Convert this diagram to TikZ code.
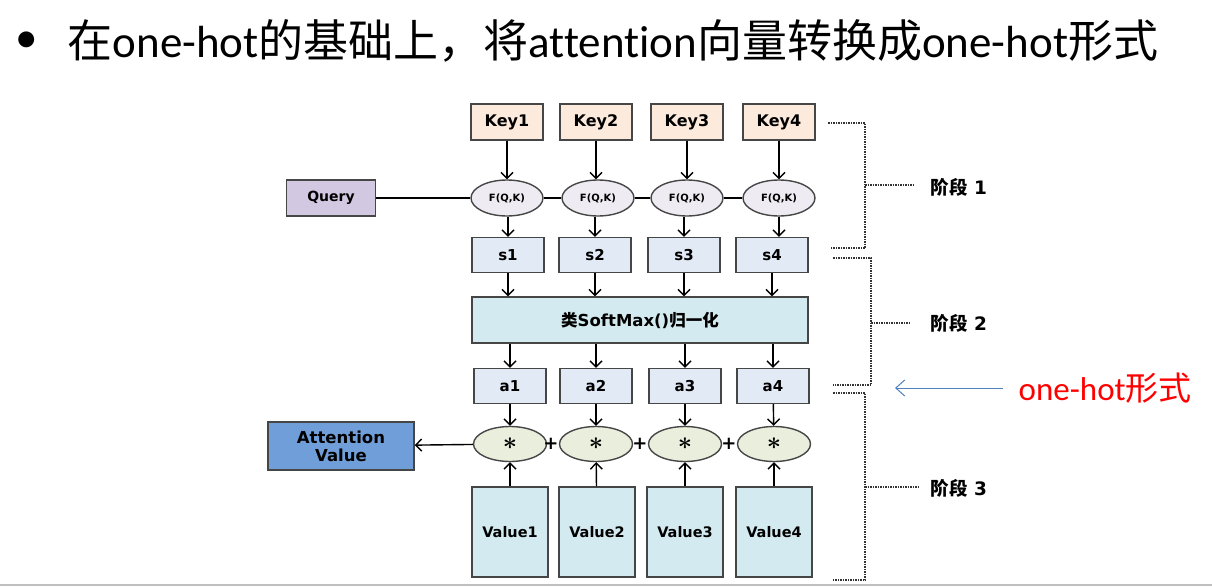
\documentclass[tikz,border=0pt]{standalone}
\usepackage{fontspec}
\setmainfont{Carlito}[Ligatures=NoCommon]
\newfontfamily\cjk{Noto Sans CJK SC}
\newfontfamily\boxfont{DejaVu Sans}
\newcommand{\zhs}[1]{{\cjk #1}}
\usetikzlibrary{arrows.meta,shapes.geometric,positioning}
\definecolor{keyfill}{RGB}{252,235,220}
\definecolor{scorefill}{RGB}{226,234,246}
\definecolor{fqkfill}{RGB}{238,236,242}
\definecolor{queryfill}{RGB}{211,200,225}
\definecolor{cyanfill}{RGB}{210,234,240}
\definecolor{mulfill}{RGB}{234,239,221}
\definecolor{attfill}{RGB}{112,158,216}
\definecolor{edgegray}{RGB}{70,70,70}
\definecolor{hintblue}{RGB}{79,129,189}
\begin{document}
\begin{tikzpicture}[x=1pt, y=-1pt, line width=1.4pt,
    box/.style = {draw=edgegray, rectangle, inner sep=0pt, align=center, font=\boxfont\bfseries\fontsize{15}{18}\selectfont},
    keybox/.style = {box, fill=keyfill, minimum width=72pt, minimum height=36pt, font=\boxfont\bfseries\fontsize{16}{18}\selectfont},
    scorebox/.style = {box, fill=scorefill, minimum width=72pt, minimum height=35pt},
    fqk/.style = {draw=edgegray, ellipse, fill=fqkfill, inner sep=0pt, minimum width=72pt, minimum height=36pt, font=\boxfont\bfseries\fontsize{10}{12}\selectfont},
    mul/.style = {draw=edgegray, ellipse, fill=mulfill, inner sep=0pt, minimum width=73pt, minimum height=35pt, font=\fontsize{28}{28}\selectfont\boldmath},
    valbox/.style = {box, fill=cyanfill, minimum width=76pt, minimum height=90pt, font=\boxfont\bfseries\fontsize{14.5}{18}\selectfont},
    plus/.style = {inner sep=0pt, font=\boxfont\bfseries\fontsize{18}{18}\selectfont},
    stage/.style = {anchor=west, inner sep=0pt, font=\boxfont\bfseries\fontsize{18.5}{19}\selectfont},
    arr/.style = {-{Straight Barb[length=6pt,width=12pt]}, black},
    bracket/.style = {densely dotted, line width=1.5pt, black!80}]
    \useasboundingbox (0,0) rectangle (1212,586);

    % title line
    \node[inner sep=0pt, font=\fontsize{45}{45}\selectfont] (dot) at (27,42) {•};
    \node[anchor=west, inner sep=0pt, font=\fontsize{45}{45}\selectfont] (title) at (67,41) {\zhs{在}one-hot\zhs{的基础上，将}attention\zhs{向量转换成}one-hot\zhs{形式}};

    % keys and scoring
    \node[keybox] (k1) at (507,122) {Key1};
    \node[keybox] (k2) at (596,122) {Key2};
    \node[keybox] (k3) at (687,122) {Key3};
    \node[keybox] (k4) at (779,122) {Key4};
    \node[box, fill=queryfill, minimum width=89pt, minimum height=36pt, font=\boxfont\bfseries\fontsize{14}{16}\selectfont] (q) at (331,198) {Query};
    \node[fqk] (f1) at (507,198) {F(Q,K)};
    \node[fqk] (f2) at (598,198) {F(Q,K)};
    \node[fqk] (f3) at (687,198) {F(Q,K)};
    \node[fqk] (f4) at (779,198) {F(Q,K)};
    \node[scorebox] (s1) at (508,255) {s1};
    \node[scorebox] (s2) at (595,255) {s2};
    \node[scorebox] (s3) at (684,255) {s3};
    \node[scorebox] (s4) at (772,255) {s4};

    % normalisation
    \node[box, fill=cyanfill, minimum width=336pt, minimum height=46pt, font=\boxfont\bfseries\fontsize{16.5}{18}\selectfont] (soft) at (640,320) {\zhs{类}SoftMax()\zhs{归一化}};
    \node[scorebox] (a1) at (510,386) {a1};
    \node[scorebox] (a2) at (596,386) {a2};
    \node[scorebox] (a3) at (685,386) {a3};
    \node[scorebox] (a4) at (773,386) {a4};

    % weighted sum
    \node[mul] (m1) at (510,444) {$\ast$};
    \node[mul] (m2) at (596,444) {$\ast$};
    \node[mul] (m3) at (685,444) {$\ast$};
    \node[mul] (m4) at (774,444) {$\ast$};
    \node[plus] (p1) at (551,444) {+};
    \node[plus] (p2) at (640,444) {+};
    \node[plus] (p3) at (729,444) {+};
    \node[valbox] (v1) at (510,532) {Value1};
    \node[valbox] (v2) at (597,532) {Value2};
    \node[valbox] (v3) at (685,532) {Value3};
    \node[valbox] (v4) at (774,532) {Value4};
    \node[box, fill=attfill, minimum width=146pt, minimum height=48pt, font=\boxfont\bfseries\fontsize{16.5}{18}\selectfont] (att) at (341,446) {Attention\\Value};

    \draw[arr] (k1) -- (f1);
    \draw[arr] (k2) -- (k2 |- f2.north);
    \draw[arr] (k3) -- (f3);
    \draw[arr] (k4) -- (f4);
    \draw (q) -- (f1);
    \draw (f1) -- (f2);
    \draw (f2) -- (f3);
    \draw (f3) -- (f4);
    \draw[arr] (s1 |- f1.south) -- (s1);
    \draw[arr] (s2 |- f2.south) -- (s2);
    \draw[arr] (s3 |- f3.south) -- (s3);
    \draw[arr] (f4.south) -- (f4 |- s4.north);
    \draw[arr] (s1) -- (s1 |- soft.north);
    \draw[arr] (s2) -- (s2 |- soft.north);
    \draw[arr] (s3) -- (s3 |- soft.north);
    \draw[arr] (s4) -- (s4 |- soft.north);
    \draw[arr] (a1 |- soft.south) -- (a1);
    \draw[arr] (a2 |- soft.south) -- (a2);
    \draw[arr] (a3 |- soft.south) -- (a3);
    \draw[arr] (a4 |- soft.south) -- (a4);
    \draw[arr] (a1) -- (m1);
    \draw[arr] (a2) -- (m2);
    \draw[arr] (a3) -- (m3);
    \draw[arr] (a4) -- (m4);
    \draw[arr] (v1) -- (m1);
    \draw[arr] (v2) -- (m2);
    \draw[arr] (v3) -- (m3);
    \draw[arr] (v4) -- (m4);
    \draw[arr] (m1) -- (att);

    % stages
    \node[stage] (st1) at (930,187) {\zhs{阶段} 1};
    \node[stage] (st2) at (930,323) {\zhs{阶段} 2};
    \node[stage] (st3) at (930,488) {\zhs{阶段} 3};
    \coordinate (b1) at (865,185);
    \coordinate (b2) at (871,323);
    \coordinate (b3) at (865,487);
    \draw[bracket] (828,123) -| (865,248) -- (831,248);
    \draw[bracket] (833,258) -| (871,385) -- (833,385);
    \draw[bracket] (833,393) -| (865,580) -- (833,580);
    \draw[bracket, shorten >=15pt] (b1) -- (b1 -| st1.west);
    \draw[bracket, shorten >=20pt] (b2) -- (b2 -| st2.west);
    \draw[bracket, shorten >=12pt] (b3) -- (b3 -| st3.west);

    % one-hot hint
    \node[anchor=west, inner sep=0pt, text=red, font=\fontsize{33}{33}\selectfont] (hint) at (1018,388) {one-hot\zhs{形式}};
    \coordinate (h0) at (1003,388);
    \draw[hintblue, line width=1pt, -{Straight Barb[length=9pt,width=16pt]}] (h0) -- (895,388);

    \draw[black!25, line width=2pt] (0,584.5) -- (1212,584.5);
\end{tikzpicture}
\end{document}
